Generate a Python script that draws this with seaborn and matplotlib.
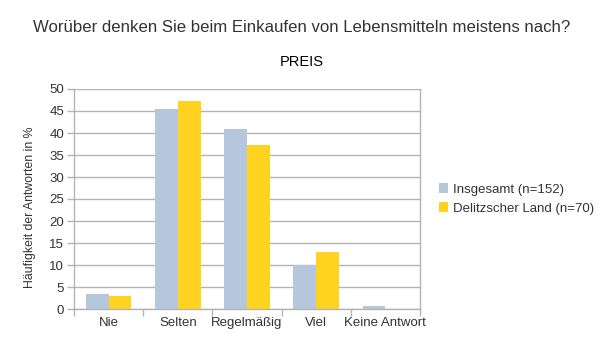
import matplotlib
matplotlib.use("Agg")
import matplotlib.pyplot as plt
import seaborn as sns
import pandas as pd

categories = ["Nie", "Selten", "Regelmäßig", "Viel", "Keine Antwort"]
insgesamt = [3.4, 45.5, 40.9, 10.0, 0.7]
delitzsch = [3.0, 47.3, 37.3, 13.0, 0.0]
series_names = ["Insgesamt (n=152)", "Delitzscher Land (n=70)"]
yticks = [0, 5, 10, 15, 20, 25, 30, 35, 40, 45, 50]

df = pd.DataFrame({
    "cat": categories * 2,
    "val": insgesamt + delitzsch,
    "series": [series_names[0]] * 5 + [series_names[1]] * 5,
})

sns.set_theme(style="white")
plt.rcParams["font.family"] = ["Liberation Sans", "DejaVu Sans"]

fig = plt.figure(figsize=(6.04, 3.4), dpi=100)
ax = fig.add_axes([74 / 604, 1 - 309 / 340, (420 - 74) / 604, (309 - 89) / 340])

sns.barplot(data=df, x="cat", y="val", hue="series", ax=ax,
            palette=["#b4c7dc", "#ffd320"], width=0.66, saturation=1,
            edgecolor="none", linewidth=0)

ax.set_ylim(0, 50)
ax.set_xlim(-0.5, 4.5)
ax.set_yticks(yticks)
ax.set_yticklabels([str(t) for t in yticks], fontsize=9.5, color="#333333")
ax.yaxis.grid(True, color="#b3b3b3", linewidth=1)
ax.set_axisbelow(True)
ax.set_xticks([0, 1, 2, 3, 4])
ax.set_xticklabels(categories, fontsize=9.5, color="#333333")
ax.tick_params(axis="x", length=0, pad=6)
ax.tick_params(axis="y", length=5, width=1, color="#b3b3b3", direction="out", pad=2, left=True)
ax.set_xticks([-0.5, 0.5, 1.5, 2.5, 3.5, 4.5], minor=True)
ax.tick_params(axis="x", which="minor", length=5, color="#b3b3b3", width=1, direction="out", bottom=True)

for s in ["left", "right", "bottom"]:
    ax.spines[s].set_visible(True)
    ax.spines[s].set_color("#b3b3b3")
    ax.spines[s].set_linewidth(1)
ax.spines["top"].set_visible(False)

ax.set_xlabel("")
ax.set_ylabel("Häufigkeit der Antworten in %", fontsize=8.8, color="#333333")
ax.yaxis.set_label_coords((36 - 74) / 346, (309 - 207) / 220)

leg = ax.legend(loc="center left", bbox_to_anchor=(1.02, 0.5), frameon=False,
                fontsize=9.5, handlelength=0.7, handleheight=0.7, handletextpad=0.4,
                labelspacing=0.5)
for t in leg.get_texts():
    t.set_color("#333333")

fig.text(0.5, 1 - 28 / 340, "Worüber denken Sie beim Einkaufen von Lebensmitteln meistens nach?",
         ha="center", va="center", fontsize=12.1, color="#333333")
fig.text(302 / 604, 1 - 62 / 340, "PREIS", ha="center", va="center", fontsize=10.5, color="#000000")

fig.savefig("out.png", dpi=100)
